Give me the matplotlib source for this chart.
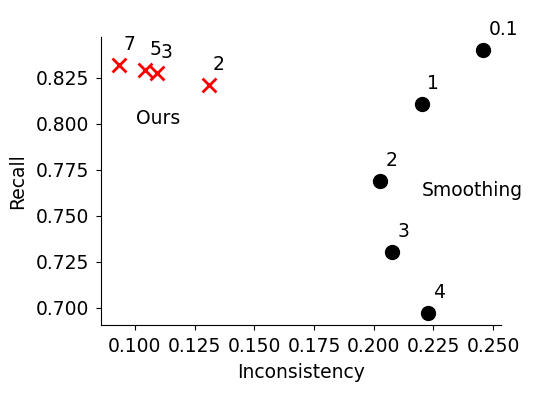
import matplotlib
matplotlib.use('Agg')
import matplotlib.pyplot as plt

# Ours (red crosses)
ours_x = [0.0933, 0.1042, 0.1092, 0.1310]
ours_y = [0.8318, 0.8291, 0.8275, 0.8210]
ours_labels = ['7', '5', '3', '2']

# Smoothing baseline (black dots)
smooth_x = [0.2457, 0.2202, 0.2026, 0.2076, 0.2227]
smooth_y = [0.8399, 0.8106, 0.7688, 0.7302, 0.6971]
smooth_labels = ['0.1', '1', '2', '3', '4']

fs = 13.5

fig = plt.figure(figsize=(5.4, 4.05), dpi=100)
ax = fig.add_axes([0.187, 0.1975, 0.7407, 0.711])

ax.scatter(ours_x, ours_y, marker='x', color='red', s=100, linewidths=2, zorder=3)
ax.scatter(smooth_x, smooth_y, marker='o', color='black', s=100, zorder=3)

for x, y, lab in zip(ours_x, ours_y, ours_labels):
    ax.annotate(lab, (x, y), xytext=(3, 11), textcoords='offset points',
                fontsize=fs, va='baseline', ha='left')
for x, y, lab in zip(smooth_x, smooth_y, smooth_labels):
    ax.annotate(lab, (x, y), xytext=(4, 11), textcoords='offset points',
                fontsize=fs, va='baseline', ha='left')

ax.text(0.1004, 0.803, 'Ours', fontsize=fs, va='center', ha='left')
ax.text(0.2202, 0.7639, 'Smoothing', fontsize=fs, va='center', ha='left')

ax.set_xlim(0.0858, 0.2533)
ax.set_ylim(0.6906, 0.8471)
ax.set_xticks([0.100, 0.125, 0.150, 0.175, 0.200, 0.225, 0.250])
ax.set_yticks([0.700, 0.725, 0.750, 0.775, 0.800, 0.825])
ax.set_xticklabels(['0.100', '0.125', '0.150', '0.175', '0.200', '0.225', '0.250'])
ax.set_yticklabels(['0.700', '0.725', '0.750', '0.775', '0.800', '0.825'])
ax.tick_params(labelsize=fs, pad=5)
ax.set_xlabel('Inconsistency', fontsize=fs, labelpad=5)
ax.set_ylabel('Recall', fontsize=fs, labelpad=6)
ax.spines['top'].set_visible(False)
ax.spines['right'].set_visible(False)

fig.savefig('out.png', dpi=100)
